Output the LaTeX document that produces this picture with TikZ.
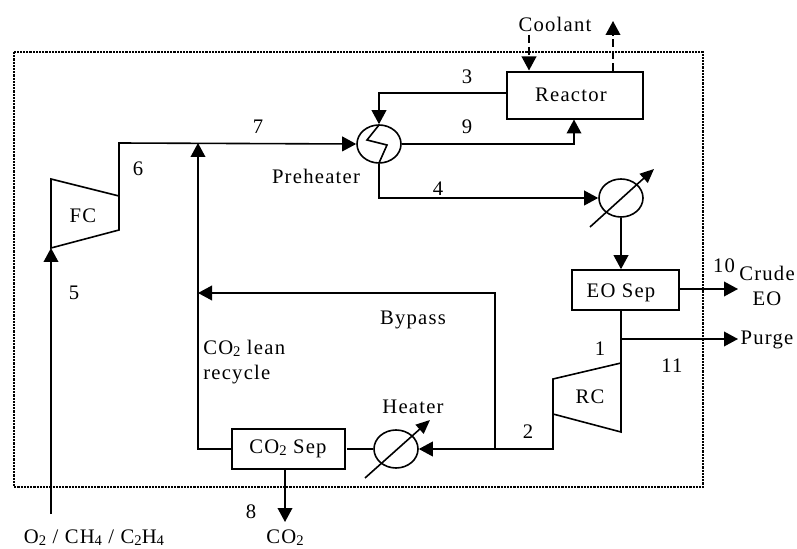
\documentclass[tikz,border=0pt]{standalone}
\usepackage{fontspec}
\setmainfont[LetterSpace=6]{Liberation Serif}
\usetikzlibrary{arrows.meta,shapes.geometric}
\newcommand{\sbs}[1]{\raisebox{-0.2ex}{\fontsize{11pt}{11pt}\selectfont #1}}
\tikzset{
  x=0.75pt,y=-0.75pt,
  lw/.style={line width=1.2pt,black},
  flow/.style={lw,-{Triangle[length=10.5pt,width=11pt]}},
  plain/.style={lw},
  dashflow/.style={flow,dash pattern=on 6pt off 3pt},
  unit/.style={draw,lw,rectangle,minimum width=0pt,minimum height=0pt,inner sep=0pt},
  hx/.style={draw,lw,ellipse,minimum width=33pt,minimum height=28.5pt,inner sep=0pt},
  frameline/.style={line width=2pt,dash pattern=on 1.6pt off 0.8pt},
  txt/.style={font=\fontsize{15.5pt}{19pt}\selectfont,inner sep=0pt,align=center}
}
\begin{document}
\begin{tikzpicture}
\useasboundingbox (0,0) rectangle (797,549);
\draw[frameline] (14,52) rectangle (703,487);
% units
\node[unit,minimum width=102pt,minimum height=35pt] (reactor) at (575,95.5) {};
\node[unit,minimum width=80pt,minimum height=30pt] (eosep) at (625.5,290) {};
\node[unit,minimum width=85pt,minimum height=30pt] (co2sep) at (288.5,449) {};
\node[hx] (pre) at (379,144) {};
\node[hx] (cooler) at (621,198) {};
\node[hx] (heater) at (396,449) {};
\draw[lw] (51,179) coordinate (fcA) -- (119,196) coordinate (fcB) -- (119,230) -- (51,248) coordinate (fcD) -- cycle;
\draw[lw] (621,363) coordinate (rcA) -- (621,432) -- (553,414) coordinate (rcC) -- (553,379) -- cycle;
% coordinates
\coordinate (feed) at (51,514);
\coordinate (co2out) at (285,522);
\coordinate (crudeEnd) at (738,289);
\coordinate (purgeEnd) at (738,339);
\coordinate (coolIn) at (529,35);
\coordinate (coolOut) at (613,21);
\coordinate (coolOutS) at (613,71);
\coordinate (coolInE) at (529,70.5);
\coordinate (mix) at (198,143);
\coordinate (tee) at (495,449);
\coordinate (purgeT) at (621,339);
\coordinate (recycle) at (198,293);
% internals of preheater
\draw[lw] (379,125) -- (367,140) -- (387,145) -- (379,163);
% stream lines
\draw[flow] (feed) -- (fcD);
\draw[flow] (fcB) -- (119,143) -- (pre.west);
\draw[flow] (co2sep.west) -| (mix);
\draw[flow] (tee) |- (recycle);
\draw[flow] (reactor.west |- 0,93) -| (pre.north);
\draw[flow] (pre.east) -| (574,119.5);
\draw[flow] (pre.south) |- (cooler.west);
\draw[flow] (cooler.south) -- (eosep.north -| cooler.south);
\draw[plain] (eosep.south -| rcA) -- (rcA);
\draw[flow] (eosep.east) ++(0,-1) -- (crudeEnd);
\draw[flow] (purgeT) -- (purgeEnd);
\draw[flow] (rcC) -- (553,449) -- (heater.east);
\draw[plain] (heater.west) -- (347,449);
\draw[flow] (co2sep.south -| co2out) -- (co2out);
\draw[dashflow] (coolIn) -- (coolInE);
\draw[dashflow] (coolOutS) -- (coolOut);
% diagonals
\draw[lw,-{Triangle[length=10.5pt,width=9pt]}] (590,227) -- (654,169);
\draw[lw,-{Triangle[length=10.5pt,width=9pt]}] (365,478) -- (430,420);
% labels
\node[txt] (lReactor) at (571,95) {Reactor};
\node[txt] (lEo) at (621,293) {EO Sep};
\node[txt] (lCo2) at (288,449) {CO\sbs{2} Sep};
\node[txt] (lFc) at (83,216) {FC};
\node[txt] (lRc) at (590,397) {RC};
\node[txt] (lCool) at (555,24) {Coolant};
\node[txt] (l3) at (467,77) {3};
\node[txt] (l9) at (467,127) {9};
\node[txt] (l4) at (438,189) {4};
\node[txt] (l7) at (258,127) {7};
\node[txt] (l6) at (138,169) {6};
\node[txt] (l5) at (74,293) {5};
\node[txt] (lPre) at (316,176) {Preheater};
\node[txt] (lBy) at (413,320) {Bypass};
\node[txt,align=left,anchor=west] (lLean) at (203,362) {CO\sbs{2} lean\\recycle};
\node[txt] (lHeat) at (413,407) {Heater};
\node[txt] (l2) at (528,432) {2};
\node[txt] (l1) at (600,349) {1};
\node[txt] (l11) at (672,366) {11};
\node[txt] (l10) at (724,266) {10};
\node[txt] (lCrude) at (767,286) {Crude\\EO};
\node[txt] (lPurge) at (767,340) {Purge};
\node[txt] (l8) at (251,512) {8};
\node[txt] (lCo2out) at (285,538) {CO\sbs{2}};
\node[txt] (lFeed) at (94,538) {O\sbs{2} / CH\sbs{4} / C\sbs{2}H\sbs{4}};
\end{tikzpicture}
\end{document}
